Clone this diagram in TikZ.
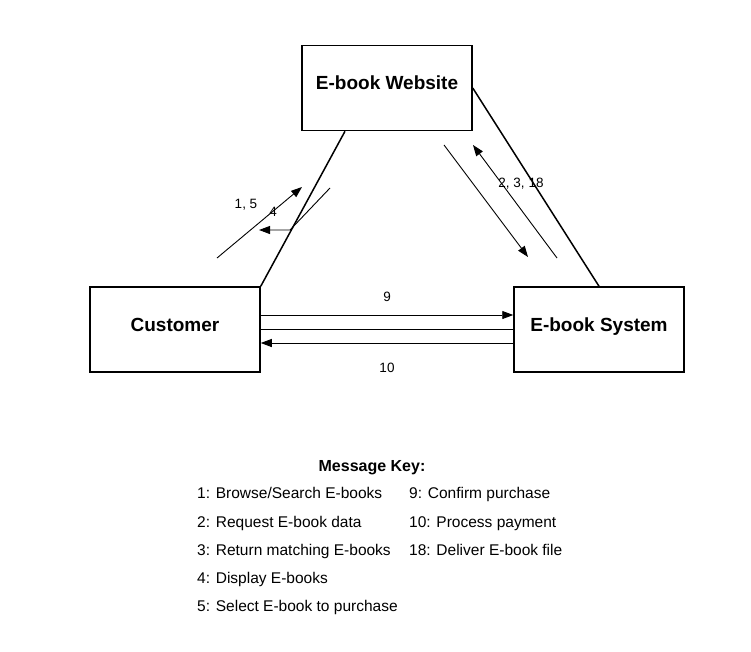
\documentclass[tikz,border=0pt]{standalone}
\usepackage{fontspec}
\setmainfont{Liberation Sans}
\usetikzlibrary{arrows.meta,positioning}

\begin{document}
\begin{tikzpicture}
  [
    x=1pt, y=-1pt,
    Actor/.style={rectangle, draw=black, line width=1.5pt, minimum width=170pt, minimum height=85pt, inner sep=0pt, text height=14pt, text depth=11pt, font=\fontsize{19}{22}\selectfont\bfseries},
    Link/.style={draw, line width=1.5pt},
    Msg/.style={-{Triangle[length=11pt,width=8pt]}, draw, line width=0.9pt},
    Tag/.style={font=\fontsize{13.5}{16}\selectfont},
    Key/.style={anchor=base west, inner sep=0pt, font=\fontsize{15.5}{18}\selectfont}
  ]
  \useasboundingbox (0,0) rectangle (751,651);
  % Nodes
  \node[Actor] (web) at (387,88) {E-book Website};
  \node[Actor] (cust) at (175,329.5) {Customer};
  \node[Actor] (sys) at (599,329.5) {E-book System};
  % Lines
  \path [Link] ([xshift=-42pt]web.south) -- (cust.north east);
  \path [Link] (web.east) -- (sys.north);
  \path [Link] (cust.east) -- (sys.west);
  % Messages
  \coordinate (m1s) at (217,258);
  \coordinate (m1e) at (302,187);
  \coordinate (m4s) at (330,188);
  \coordinate (m4b) at (290,230);
  \coordinate (m4e) at (259,230);
  \coordinate (m2s) at (444,145);
  \coordinate (m2e) at (528,257);
  \coordinate (m3s) at (557,258);
  \coordinate (m3e) at (473,145);
  \path [Msg] (m1s) -- (m1e);
  \path [Msg] (m4s) -- (m4b) -- (m4e);
  \path [Msg] (m2s) -- (m2e);
  \path [Msg] (m3s) -- (m3e);
  \path [Msg] ([yshift=14.5pt]cust.east) -- ([yshift=14.5pt]sys.west);
  \path [Msg] ([yshift=-13.5pt]sys.west) -- ([yshift=-13.5pt]cust.east);
  \node[Tag] (l15) at (246,205) {1, 5};
  \node[Tag] (l4) at (273,212) {4};
  \node[Tag] (l2318) at (521,184) {2, 3, 18};
  \node[Tag] (l9) at (387,297) {9};
  \node[Tag] (l10) at (387,368) {10};
  % Key
  \node[anchor=base, inner sep=0pt, font=\fontsize{16}{19}\selectfont\bfseries] (keyhead) at (372,471.5) {Message Key:};
  \foreach \t [count=\i] in {1: Browse/Search E-books, 2: Request E-book data, 3: Return matching E-books, 4: Display E-books, 5: Select E-book to purchase}
    \node[Key] (ka\i) at (197,470.5+28.25*\i) {\t};
  \foreach \t [count=\i] in {9: Confirm purchase, 10: Process payment, 18: Deliver E-book file}
    \node[Key] (kb\i) at (409,470.5+28.25*\i) {\t};
\end{tikzpicture}
\end{document}
